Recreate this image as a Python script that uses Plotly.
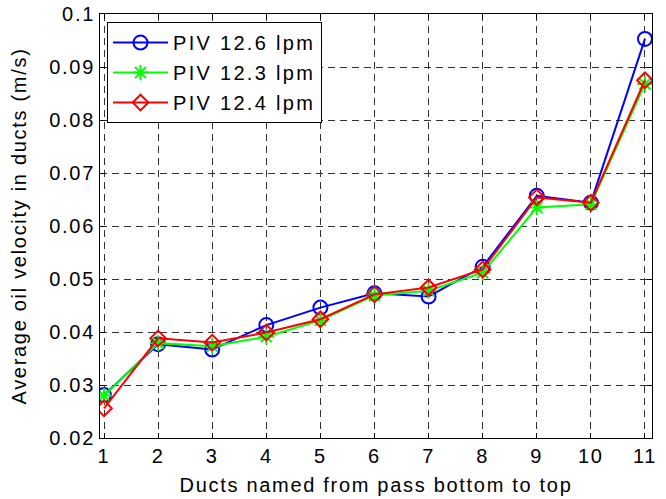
import plotly.graph_objects as go

# Duct numbers (bottom to top of the pass)
ducts = [1, 2, 3, 4, 5, 6, 7, 8, 9, 10, 11]

# Average oil velocity per duct (m/s) for each flow rate
piv_126 = [0.0281, 0.0377, 0.0367, 0.0413, 0.0446, 0.0473, 0.0467, 0.0523, 0.0657, 0.0644, 0.0953]
piv_123 = [0.0280, 0.0379, 0.0373, 0.0391, 0.0422, 0.0469, 0.0478, 0.0512, 0.0635, 0.0641, 0.0868]
piv_124 = [0.0256, 0.0388, 0.0380, 0.0399, 0.0424, 0.0471, 0.0484, 0.0518, 0.0654, 0.0644, 0.0875]

series_names = ["PIV 12.6 lpm", "PIV 12.3 lpm", "PIV 12.4 lpm"]

x_ticks = ducts
x_ticklabels = [str(d) for d in ducts]
y_ticks = [0.02, 0.03, 0.04, 0.05, 0.06, 0.07, 0.08, 0.09, 0.1]
y_ticklabels = ["0.02", "0.03", "0.04", "0.05", "0.06", "0.07", "0.08", "0.09", "0.1"]

FONT = "Liberation Sans, Arial, Helvetica, sans-serif"
FS = 20


def spaced(text, px=1.7):
    """Wrap a label so it is drawn with slightly wider letter spacing."""
    return f'<span style="letter-spacing:{px}px">{text}</span>'


styles = [
    ("#0000ff", "circle-open", 14),
    ("#00ff00", "asterisk-open", 13),
    ("#ff0000", "diamond-open", 12),
]

fig = go.Figure()
for name, vals, (color, symbol, size) in zip(series_names, [piv_126, piv_123, piv_124], styles):
    fig.add_trace(go.Scatter(
        x=ducts, y=vals, name=spaced(name, 2.3), mode="lines+markers", legendgroup=name,
        line=dict(color=color, width=2),
        marker=dict(symbol=symbol, size=size, color=color,
                    line=dict(color=color, width=2)),
    ))

axis_common = dict(
    showline=True, linecolor="black", linewidth=1, mirror="ticks",
    ticks="inside", ticklen=5, tickcolor="black", tickwidth=1,
    showgrid=True, gridcolor="#333333", gridwidth=1, griddash="7px,5px",
    zeroline=False, automargin=False,
    tickfont=dict(family=FONT, size=FS, color="black"),
)

fig.update_xaxes(
    range=[0.926, 11.13], tickvals=x_ticks,
    ticktext=[spaced(t) for t in x_ticklabels],
    title=dict(text=spaced("Ducts named from pass bottom to top"),
               font=dict(family=FONT, size=FS, color="black"), standoff=11),
    **axis_common,
)
fig.update_yaxes(
    range=[0.02, 0.1], tickvals=y_ticks,
    ticktext=[spaced(t) for t in y_ticklabels],
    title=dict(text=spaced("Average oil velocity in ducts (m/s)"),
               font=dict(family=FONT, size=FS, color="black"), standoff=17),
    **axis_common,
)

fig.update_layout(
    width=666, height=499,
    margin=dict(l=100, r=14, t=14, b=61),
    paper_bgcolor="white", plot_bgcolor="white",
    font=dict(family=FONT, size=FS, color="black"),
    showlegend=True,
    legend=dict(
        x=0.0127, y=0.981, xanchor="left", yanchor="top",
        bgcolor="white", bordercolor="black", borderwidth=1,
        font=dict(family=FONT, size=FS, color="black"),
        tracegroupgap=1, itemwidth=55,
    ),
)

fig.write_html("out.html")
